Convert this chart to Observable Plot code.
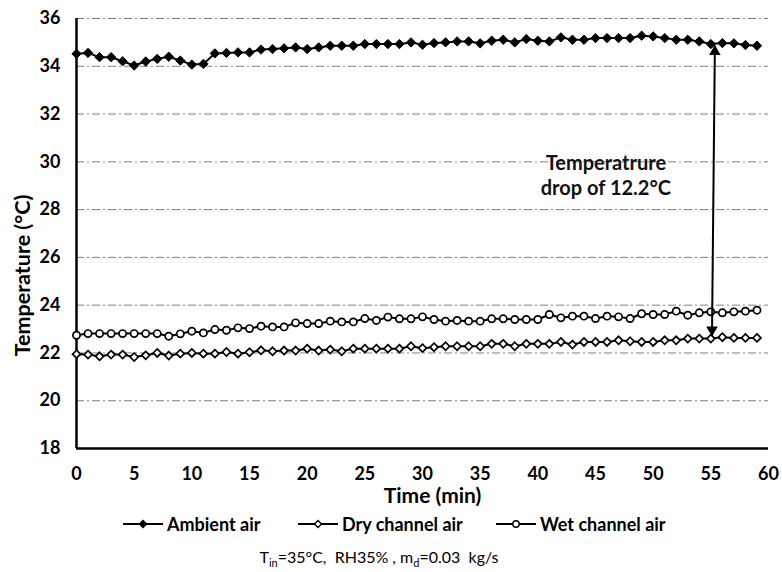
<!DOCTYPE html>
<html>
<head>
<meta charset="utf-8">
<script src="https://cdn.jsdelivr.net/npm/d3@7"></script>
<script src="https://cdn.jsdelivr.net/npm/@observablehq/plot@0.6"></script>
<style>
  html, body { margin: 0; padding: 0; background: #fff; }
  #wrap { position: relative; width: 782px; height: 572px; font-family: Lato, "Open Sans", sans-serif; color: #000; }
  #legend { position: absolute; left: 0; top: 505px; width: 782px; height: 67px; }
  .item { position: absolute; top: 7px; height: 24px; display: flex; align-items: center; font-weight: 700; font-size: 18px; white-space: nowrap; }
  .item svg { margin-right: 4px; }
  #caption { position: absolute; top: 42px; left: 179px; width: 400px; text-align: center; font-size: 16px; white-space: nowrap; }
  #caption sub { font-size: 11px; }
</style>
</head>
<body>
<div id="wrap">
  <div id="chart"></div>
  <div id="legend"></div>
</div>
<script>
// ---- data ----
const minutes = d3.range(0, 60);
const ambientAir = [34.52,34.56,34.38,34.38,34.21,34.03,34.2,34.31,34.4,34.24,34.07,34.1,34.54,34.56,34.58,34.58,34.7,34.72,34.75,34.79,34.72,34.79,34.86,34.86,34.86,34.93,34.93,34.93,34.93,35.0,34.9,34.97,35.0,35.04,35.04,34.96,35.07,35.11,35.0,35.14,35.07,35.04,35.21,35.11,35.11,35.18,35.18,35.18,35.18,35.28,35.25,35.18,35.11,35.11,35.04,34.93,34.97,34.96,34.89,34.86];
const dryChannelAir = [21.95,21.93,21.86,21.93,21.93,21.83,21.9,22.0,21.89,21.97,22.0,21.97,21.97,22.04,21.97,22.03,22.11,22.07,22.1,22.1,22.18,22.1,22.14,22.07,22.18,22.18,22.18,22.18,22.18,22.28,22.2,22.24,22.28,22.28,22.28,22.28,22.38,22.38,22.28,22.38,22.38,22.38,22.46,22.35,22.46,22.46,22.46,22.53,22.49,22.46,22.46,22.53,22.53,22.6,22.6,22.6,22.66,22.63,22.63,22.63];
const wetChannelAir = [22.74,22.81,22.81,22.81,22.81,22.81,22.81,22.81,22.7,22.8,22.91,22.84,22.98,22.95,23.05,23.02,23.12,23.09,23.09,23.26,23.23,23.23,23.33,23.3,23.3,23.44,23.36,23.5,23.43,23.43,23.51,23.4,23.33,23.36,23.33,23.33,23.43,23.43,23.4,23.4,23.4,23.61,23.47,23.54,23.54,23.44,23.54,23.51,23.44,23.64,23.61,23.61,23.75,23.58,23.68,23.72,23.68,23.72,23.75,23.79];
const seriesNames = ["Ambient air", "Dry channel air", "Wet channel air"];
const xTicks = [0,5,10,15,20,25,30,35,40,45,50,55,60];
const yTicks = [18,20,22,24,26,28,30,32,34,36];
const gridTicks = [20,22,24,26,28,30,32,34,36];
// temperature-drop arrow: from ambient to dry channel air near minute 55
const dropArrow = [{x1: 55.35, y1: 34.86, x2: 55.1, y2: 22.72}];
const dropNote = [{x: 45.9, y: 29.45, text: "Temperatrure\ndrop of 12.2°C"}];
const yTitle = "Temperature (°C)";
const xTitle = "Time (min)";

const toRows = (vals) => minutes.map((t, i) => ({t, v: vals[i]}));
const amb = toRows(ambientAir), dry = toRows(dryChannelAir), wet = toRows(wetChannelAir);

const chart = Plot.plot({
  width: 782,
  height: 505,
  marginLeft: 76,
  marginRight: 14,
  marginTop: 18,
  marginBottom: 57,
  style: {fontFamily: "Lato, 'Open Sans', sans-serif", fontSize: "18px", fontWeight: 700, color: "#000", background: "#fff", overflow: "visible"},
  x: {domain: [0, 60], ticks: xTicks, tickSize: 0, tickPadding: 19, label: null},
  y: {domain: [18, 36], ticks: yTicks, tickSize: 0, tickPadding: 16, label: null},
  marks: [
    Plot.ruleY(gridTicks, {stroke: "#808080", strokeWidth: 1, strokeDasharray: "8,3,2,3"}),
    Plot.ruleX([0], {stroke: "#000", strokeWidth: 2.5}),
    Plot.ruleY([18], {stroke: "#000", strokeWidth: 2.5}),
    Plot.line(amb, {x: "t", y: "v", stroke: "#000", strokeWidth: 2}),
    Plot.line(dry, {x: "t", y: "v", stroke: "#000", strokeWidth: 2}),
    Plot.line(wet, {x: "t", y: "v", stroke: "#000", strokeWidth: 2}),
    Plot.dot(amb, {x: "t", y: "v", symbol: "diamond2", r: 4.2, fill: "#000", stroke: "#000", strokeWidth: 1}),
    Plot.dot(dry, {x: "t", y: "v", symbol: "diamond2", r: 3.6, fill: "#fff", stroke: "#000", strokeWidth: 1.7}),
    Plot.dot(wet, {x: "t", y: "v", symbol: "circle", r: 3.6, fill: "#fff", stroke: "#000", strokeWidth: 1.7}),
    Plot.link(dropArrow, {x1: "x1", y1: "y1", x2: "x2", y2: "y2", stroke: "#000", strokeWidth: 2}),
    Plot.dot(dropArrow, {x: "x1", y: "y1", symbol: "triangle", r: 4.3, fill: "#000", dy: 6}),
    Plot.dot(dropArrow, {x: "x2", y: "y2", symbol: "triangle", r: 4.3, fill: "#000", rotate: 180, dy: -6}),
    Plot.text(dropNote, {x: "x", y: "y", text: "text", fontSize: 20, fontWeight: 700, fill: "#111", lineHeight: 1.25}),
    Plot.text([yTitle], {frameAnchor: "left", textAnchor: "middle", rotate: -90, dx: -53, dy: 42, fontSize: 21.5, fontWeight: 700}),
    Plot.text([xTitle], {frameAnchor: "bottom", lineAnchor: "middle", dx: 10, dy: 48, fontSize: 21, fontWeight: 700})
  ]
});
document.getElementById("chart").appendChild(chart);

// ---- legend ----
const legend = document.getElementById("legend");
const legendX = [123, 298, 496];
seriesNames.forEach((name, i) => {
  const item = document.createElement("div");
  item.className = "item";
  item.style.left = legendX[i] + "px";
  let marker;
  if (i === 0) marker = '<path d="M20,5.5 L24.5,10 L20,14.5 L15.5,10 Z" fill="#000"/>';
  else if (i === 1) marker = '<path d="M20,6.5 L23.5,10 L20,13.5 L16.5,10 Z" fill="#fff" stroke="#000" stroke-width="1.4"/>';
  else marker = '<circle cx="20" cy="10" r="3.2" fill="#fff" stroke="#000" stroke-width="1.4"/>';
  item.innerHTML = `<svg width="40" height="20"><line x1="0" y1="10" x2="40" y2="10" stroke="#000" stroke-width="2"/>${marker}</svg><span>${name}</span>`;
  legend.appendChild(item);
});
const cap = document.createElement("div");
cap.id = "caption";
cap.innerHTML = "T<sub>in</sub>=35°C,&nbsp; RH35% , m<sub>d</sub>=0.03&nbsp; kg/s";
legend.appendChild(cap);
</script>
</body>
</html>
